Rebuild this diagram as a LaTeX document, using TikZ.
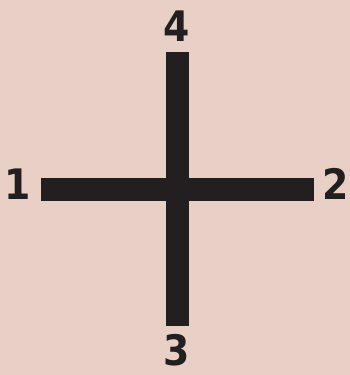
\documentclass[tikz,border=0pt]{standalone}
\usepackage{fontspec}
\setmainfont{DejaVu Sans Condensed}[BoldFont=DejaVu Sans Condensed Bold]
\definecolor{bgpink}{HTML}{E8D0C6}
\definecolor{barblack}{HTML}{231F20}
\begin{document}
\begin{tikzpicture}[x=1pt,y=-1pt]
		\tikzstyle{every node}=[font=\fontsize{42}{42}\selectfont\bfseries, text=barblack, inner sep=0pt]
		\tikzstyle{bar}=[fill=barblack, draw=none]
		\fill[bgpink] (0,0) rectangle (350,375);
		\useasboundingbox (0,0) rectangle (350,375);
		\fill[bar] (41,178) rectangle (314,201);
		\fill[bar] (166,52) rectangle (189,326);
		\node (one) at (18,184) {1};
		\node (two) at (336,184) {2};
		\node (four) at (177,26) {4};
		\node (three) at (177,350) {3};
	\end{tikzpicture}
\end{document}
